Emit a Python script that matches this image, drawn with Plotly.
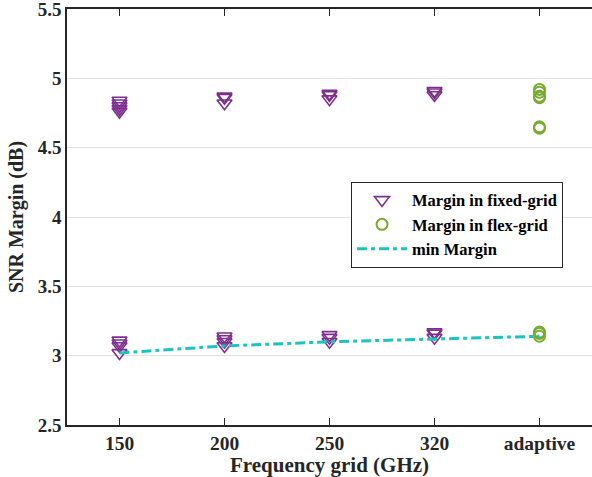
import plotly.graph_objects as go

categories = ["150", "200", "250", "320", "adaptive"]
fixed_cats = ["150", "200", "250", "320"]

# SNR margins, fixed-grid (upper cluster and lower cluster per category)
fixed_upper = {
    "150": [4.84, 4.82, 4.80, 4.78, 4.76],
    "200": [4.87, 4.86, 4.82],
    "250": [4.89, 4.88, 4.85],
    "320": [4.91, 4.90, 4.88],
}
fixed_lower = {
    "150": [3.11, 3.09, 3.07, 3.02],
    "200": [3.14, 3.12, 3.10, 3.07],
    "250": [3.15, 3.13, 3.10],
    "320": [3.17, 3.16, 3.13],
}
flex_values = [4.92, 4.90, 4.87, 4.86, 4.65, 4.64, 3.17, 3.16, 3.14]
min_margin = [3.02, 3.07, 3.10, 3.12, 3.14]

yticks = [2.5, 3, 3.5, 4, 4.5, 5, 5.5]

pos = {c: i + 1 for i, c in enumerate(categories)}

fx, fy = [], []
for c in fixed_cats:
    for v in fixed_upper[c] + fixed_lower[c]:
        fx.append(pos[c])
        fy.append(v)

font_family = "Liberation Serif"
purple = "#7E2F8E"
green = "#77AC30"
cyan = "#1CC3C3"

fig = go.Figure()
fig.add_trace(go.Scatter(
    x=fx, y=fy, mode="markers", name="<b>Margin in fixed-grid</b>",
    marker=dict(symbol="triangle-down-open", size=13, color=purple,
                line=dict(width=1.6, color=purple)),
))
fig.add_trace(go.Scatter(
    x=[pos["adaptive"]] * len(flex_values), y=flex_values, mode="markers",
    name="<b>Margin in flex-grid</b>",
    marker=dict(symbol="circle-open", size=11, color=green,
                line=dict(width=2, color=green)),
))
fig.add_trace(go.Scatter(
    x=[pos[c] for c in categories], y=min_margin, mode="lines",
    name="<b>min Margin</b>",
    line=dict(color=cyan, width=3, dash="10px,4px,4px,4px"),
))

fig.update_layout(
    width=592, height=477,
    margin=dict(l=67, r=0, t=9, b=52),
    paper_bgcolor="white", plot_bgcolor="white",
    font=dict(family=font_family, size=19, color="#262626"),
    legend=dict(
        x=0.541, y=0.585, xanchor="left", yanchor="top",
        bgcolor="white", bordercolor="#262626", borderwidth=1,
        font=dict(family=font_family, size=16.5, color="black"),
        tracegroupgap=0, itemwidth=50,
    ),
    showlegend=True,
)
fig.update_xaxes(
    range=[0.5, 5.5], automargin=False, ticklabeloverflow="allow",
    tickmode="array", tickvals=[pos[c] for c in categories],
    ticktext=["<b>%s</b>" % c for c in categories],
    ticks="inside", ticklen=7, tickcolor="#262626", tickwidth=1,
    showline=True, linecolor="#262626", linewidth=1.5, mirror="ticks",
    showgrid=False, zeroline=False,
    title=dict(text="<b>Frequency grid (GHz)</b>", standoff=0,
               font=dict(family=font_family, size=21, color="#262626")),
    tickfont=dict(family=font_family, size=19.5, color="#262626"),
)
fig.update_yaxes(
    range=[2.5, 5.5], automargin=False, ticklabeloverflow="allow",
    tickmode="array", tickvals=yticks,
    ticktext=["<b>%g</b>" % t for t in yticks],
    ticks="", showline=True, linecolor="#262626", linewidth=1.5,
    showgrid=True, gridcolor="#E3E3E3", gridwidth=1, zeroline=False,
    title=dict(text="<b>SNR Margin (dB)</b>", standoff=9,
               font=dict(family=font_family, size=20, color="#262626")),
    tickfont=dict(family=font_family, size=19, color="#262626"),
)

fig.write_html("out.html", config={"displayModeBar": False},
               post_script="document.body.style.margin='0px';")
